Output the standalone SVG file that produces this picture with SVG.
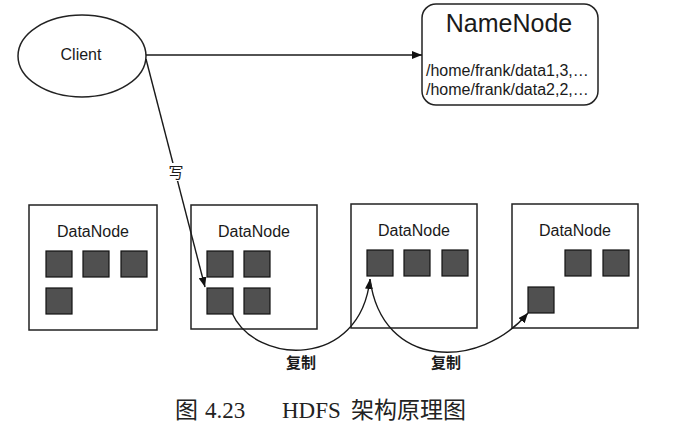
<svg xmlns="http://www.w3.org/2000/svg" width="677" height="432" viewBox="0 0 677 432">
<defs>
<marker id="arr" viewBox="0 0 10 8" refX="10" refY="4" markerWidth="10" markerHeight="8" markerUnits="userSpaceOnUse" orient="auto">
<path d="M0,0 L10,4 L0,8 Z" fill="#111"/>
</marker>
<style>
.box{fill:#fff;stroke:#222;stroke-width:1.5}
.blk{fill:#505050;stroke:#111;stroke-width:1.2}
.ln{fill:none;stroke:#1a1a1a;stroke-width:1.4}
.sans{font-family:"Liberation Sans","Noto Sans CJK SC",sans-serif;fill:#1a1a1a}
.cjk{font-family:"Noto Sans CJK SC",sans-serif;fill:#1a1a1a}
.dn{font-size:16px;text-anchor:middle}
.cap{font-family:"Liberation Serif","Noto Sans CJK SC",serif;font-size:23px;fill:#222}
</style>
</defs>
<rect width="677" height="432" fill="#fff"/>

<g id="client">
<ellipse class="box" cx="82" cy="56" rx="64" ry="41"/>
<text class="sans" x="81" y="60" font-size="16" text-anchor="middle">Client</text>
</g>

<g id="namenode">
<rect class="box" x="422" y="4" width="176" height="101" rx="14"/>
<text class="sans" x="509" y="32" font-size="25" text-anchor="middle">NameNode</text>
<text class="sans" x="426" y="76" font-size="16">/home/frank/data1,3,…</text>
<text class="sans" x="426" y="95" font-size="16">/home/frank/data2,2,…</text>
</g>

<g id="datanode1">
<rect class="box" x="29" y="205" width="128" height="125"/>
<text class="sans dn" x="93" y="237">DataNode</text>
<rect class="blk" x="46" y="251" width="26" height="26"/>
<rect class="blk" x="83" y="251" width="26" height="26"/>
<rect class="blk" x="121" y="251" width="26" height="26"/>
<rect class="blk" x="46" y="288" width="26" height="26"/>
</g>

<g id="datanode2">
<rect class="box" x="191" y="205" width="126" height="124"/>
<text class="sans dn" x="254" y="237">DataNode</text>
<rect class="blk" x="207" y="251" width="26" height="26"/>
<rect class="blk" x="244" y="251" width="26" height="26"/>
<rect class="blk" x="207" y="288" width="26" height="26"/>
<rect class="blk" x="244" y="288" width="26" height="26"/>
</g>

<g id="datanode3">
<rect class="box" x="351" y="204" width="126" height="124"/>
<text class="sans dn" x="414" y="236">DataNode</text>
<rect class="blk" x="367" y="250" width="26" height="26"/>
<rect class="blk" x="404" y="250" width="26" height="26"/>
<rect class="blk" x="442" y="250" width="26" height="26"/>
</g>

<g id="datanode4">
<rect class="box" x="512" y="204" width="126" height="124"/>
<text class="sans dn" x="575" y="236">DataNode</text>
<rect class="blk" x="565" y="250" width="26" height="26"/>
<rect class="blk" x="603" y="250" width="26" height="26"/>
<rect class="blk" x="528" y="287" width="26" height="26"/>
</g>

<g id="connectors">
<line class="ln" x1="146" y1="55" x2="422" y2="55" marker-end="url(#arr)"/>
<line class="ln" x1="146" y1="59" x2="205" y2="287" marker-end="url(#arr)"/>
<path class="ln" d="M232,313 C255,365 360,370 370,279" marker-end="url(#arr)"/>
<path class="ln" d="M370,279 C382,370 480,370 528,313" marker-end="url(#arr)"/>
<rect x="167" y="163" width="18" height="18" fill="#fff"/>
<text class="cjk" x="176" y="178" font-size="15" text-anchor="middle">写</text>
<text class="cjk" x="301" y="368" font-size="15" font-weight="bold" text-anchor="middle">复制</text>
<text class="cjk" x="446" y="368" font-size="15" font-weight="bold" text-anchor="middle">复制</text>
</g>

<g id="caption">
<text class="cap" y="418"><tspan x="175">图</tspan><tspan x="205">4.23</tspan><tspan x="282">HDFS</tspan><tspan x="351">架构原理图</tspan></text>
</g>
</svg>
